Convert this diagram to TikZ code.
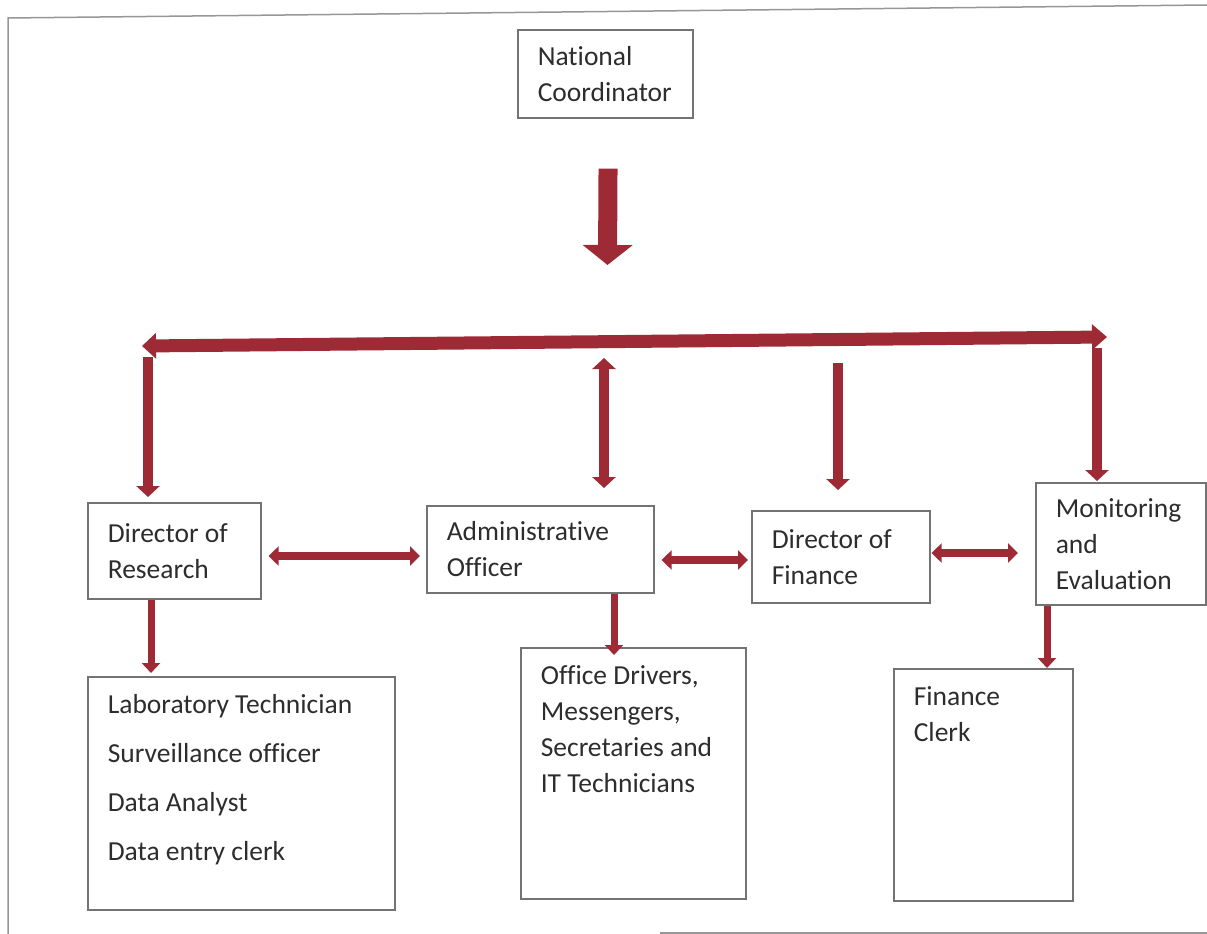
\documentclass[tikz,border=0pt]{standalone}
\usepackage{fontspec}
\setmainfont[Ligatures=CommonOff]{Carlito}
\usetikzlibrary{arrows.meta}
\definecolor{arrowred}{RGB}{158,42,54}
\definecolor{boxgray}{RGB}{115,115,115}
\definecolor{framegray}{RGB}{150,150,150}
\definecolor{txt}{RGB}{45,45,45}
\newcommand{\bxt}[5]{\begin{minipage}[c][#2][#3]{#1}\raggedright\leftskip=20pt\relax\vspace*{#4}#5\end{minipage}}
\begin{document}
\begin{tikzpicture}[x=1pt,y=-1pt,
  box/.style={draw=boxgray, line width=1.6pt, inner sep=0pt, anchor=north west,
    text=txt, font=\fontsize{27.5}{36}\selectfont},
  bigdown/.style={draw=arrowred, line width=19pt, -{Triangle[width=49pt,length=20pt]}},
  bar/.style={draw=arrowred, line width=13pt, {Triangle[width=25pt,length=14pt]}-{Triangle[width=25pt,length=15pt]}},
  vdown/.style={draw=arrowred, line width=10pt, -{Triangle[width=23pt,length=11pt]}},
  vboth/.style={draw=arrowred, line width=10pt, {Triangle[width=23pt,length=11pt]}-{Triangle[width=23pt,length=11pt]}},
  hboth/.style={draw=arrowred, line width=8pt, {Triangle[width=19pt,length=10pt]}-{Triangle[width=19pt,length=10pt]}},
  sdown/.style={draw=arrowred, line width=7pt, -{Triangle[width=18pt,length=10pt]}}
]
\useasboundingbox (0,0) rectangle (1207,934);
% scanned page frame
\draw[framegray, line width=1.5pt] (8,934) -- (8,18) -- (1207,5);
\draw[framegray, line width=1.5pt] (660,933) -- (1207,933);

% boxes
\node[box] (nc) at (517,29) {\bxt{175pt}{88pt}{c}{0pt}{National\\Coordinator}};
\node[box] (dr) at (87,502) {\bxt{173pt}{96pt}{c}{0pt}{Director of\\Research}};
\node[box] (ao) at (426,505) {\bxt{227pt}{87pt}{c}{0pt}{Administrative\\Officer}};
\node[box] (df) at (751,510) {\bxt{178pt}{92pt}{c}{0pt}{Director of\\Finance}};
\node[box] (me) at (1035,482) {\bxt{170pt}{122pt}{c}{0pt}{Monitoring\\and\\Evaluation}};
\node[box] (lab) at (87,676) {\bxt{307pt}{233pt}{t}{18pt}{\fontsize{27.5}{49}\selectfont Laboratory Technician\\Surveillance officer\\Data Analyst\\Data entry clerk}};
\node[box] (off) at (520,647) {\bxt{225pt}{251pt}{t}{18pt}{Office Drivers,\\Messengers,\\Secretaries and\\IT Technicians}};
\node[box] (fc) at (893,668) {\bxt{179pt}{232pt}{t}{18pt}{Finance\\Clerk}};

% helper coordinates
\coordinate (ttip) at (607.5,265);
\coordinate (hl) at (142,346);
\coordinate (hr) at (1107,337);
\coordinate (vl) at (148,357);
\coordinate (mtop) at (604,358);
\coordinate (fdtop) at (838,363);
\coordinate (rtop) at (1097,348);
\coordinate (xdr) at (151,0);
\coordinate (xao) at (614,0);
\coordinate (xme) at (1047,0);
\coordinate (ya) at (0,556);
\coordinate (yb) at (0,560);
\coordinate (yc) at (0,553);

% connectors
\draw[bigdown, shorten <=50pt] ([xshift=3pt]nc.south) -- (ttip);
\draw[bar] (hl) -- (hr);
\draw[vdown, shorten >=5pt] (vl) -- (vl |- dr.north);
\draw[vboth, shorten >=17pt] (mtop) -- (mtop |- ao.north);
\draw[vdown, shorten >=20pt] (fdtop) -- (fdtop |- df.north);
\draw[vdown, shorten >=1pt] (rtop) -- (rtop |- me.north);

\draw[hboth, shorten <=7pt, shorten >=6pt] (dr.east |- ya) -- (ao.west |- ya);
\draw[hboth, shorten <=7pt, shorten >=3pt] (ao.east |- yb) -- (df.west |- yb);
\draw[hboth, shorten <=1pt, shorten >=17pt] (df.east |- yc) -- (me.west |- yc);

\draw[sdown, shorten >=3pt] (dr.south -| xdr) -- (lab.north -| xdr);
\draw[sdown, shorten >=-8pt] (ao.south -| xao) -- (off.north -| xao);
\draw[sdown] (me.south -| xme) -- (fc.north -| xme);
\end{tikzpicture}
\end{document}
